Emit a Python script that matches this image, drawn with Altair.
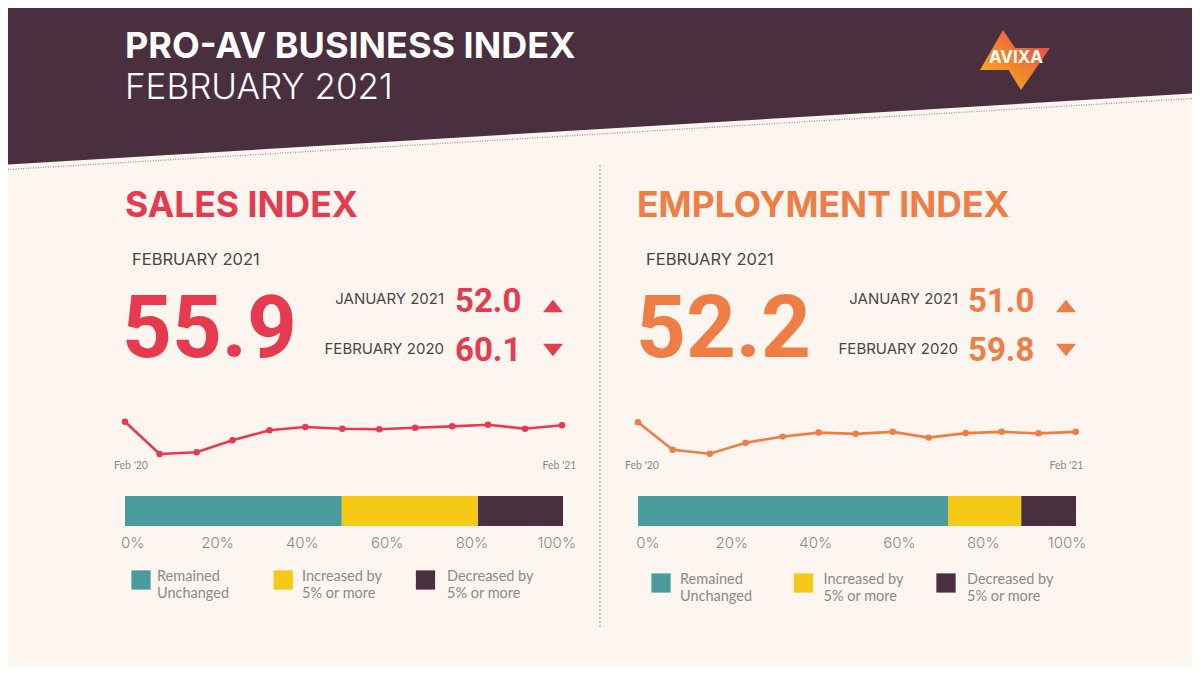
import altair as alt
import pandas as pd

# ---------------- data ----------------
months = ["2020-02-01", "2020-03-01", "2020-04-01", "2020-05-01", "2020-06-01",
          "2020-07-01", "2020-08-01", "2020-09-01", "2020-10-01", "2020-11-01",
          "2020-12-01", "2021-01-01", "2021-02-01"]
sales_index = [60.1, 22.6, 24.6, 38.5, 50.1, 53.9, 52.0, 51.3, 53.1, 54.7, 56.6, 52.0, 55.9]
employment_index = [59.8, 38.0, 34.8, 43.6, 48.4, 51.6, 50.6, 52.2, 47.6, 51.2, 52.2, 51.0, 52.2]
spark_labels = ["Feb '20", "Feb '21"]

categories = ["Remained Unchanged", "Increased by 5% or more", "Decreased by 5% or more"]
legend_lines = ["Remained\nUnchanged", "Increased by\n5% or more", "Decreased by\n5% or more"]
sales_shares = [49.5, 31.1, 19.4]
employment_shares = [70.8, 16.7, 12.5]
tick_values = [0, 20, 40, 60, 80, 100]
tick_labels = ["0%", "20%", "40%", "60%", "80%", "100%"]

sales_headline = {"title": "SALES INDEX", "current": "55.9", "jan": "52.0", "prev": "60.1"}
emp_headline = {"title": "EMPLOYMENT INDEX", "current": "52.2", "jan": "51.0", "prev": "59.8"}

# ---------------- style ----------------
BG = "#FDF6F0"
PLUM = "#4A2F3F"
RED = "#E63A4F"
ORANGE = "#EE7E45"
TEAL = "#4A9A9E"
YELLOW = "#F4CA16"
GRAY_DARK = "#474747"
GRAY = "#8A8A8A"
HEAD = "Inter"
NUM = "Roboto"
BODY = "Lato"
seg_colors = [TEAL, YELLOW, PLUM]

OFF = 8  # page margin: reference pixel -> chart pixel
one = pd.DataFrame({"k": [0]})


def P(v):
    return v - OFF


def txt(t, x, y, size, color, weight="normal", font=HEAD, align="left", baseline="alphabetic"):
    return alt.Chart(one).mark_text(
        text=t, fontSize=size, color=color, fontWeight=weight, font=font,
        align=align, baseline=baseline
    ).encode(x=alt.value(P(x)), y=alt.value(P(y)))


layers = []

# header band (diagonal)
header_df = pd.DataFrame({"px": [0, 1184], "py": [P(165 - 0.06 * 8), P(165 - 0.06 * 1192)]})
layers.append(
    alt.Chart(header_df).mark_area(color=PLUM, opacity=1).encode(
        x=alt.X("px:Q", scale=None, axis=None),
        y=alt.Y("py:Q", scale=None, axis=None),
        y2=alt.value(0),
    )
)
layers.append(
    alt.Chart(one).mark_rule(color="#9C9494", strokeDash=[1, 1.5], strokeWidth=1.3).encode(
        x=alt.value(0), y=alt.value(P(169.5)), x2=alt.value(1184), y2=alt.value(P(98.5))
    )
)
layers.append(txt("PRO-AV BUSINESS INDEX", 125, 58, 36, "white", weight="bold"))
layers.append(txt("FEBRUARY 2021", 125, 99, 35, "white", weight=300))

# logo
logo_path = ("M-0.343,-0.857L-1,0.286L0.429,0.286Z "
             "M-0.571,-0.343L0.171,0.857L1,-0.343Z")
layers.append(
    alt.Chart(one).mark_point(
        shape=logo_path, size=4900, filled=True, opacity=1, strokeWidth=0,
        fill=alt.LinearGradient(
            gradient="linear",
            stops=[alt.GradientStop(color="#F9B81A", offset=0),
                   alt.GradientStop(color="#F07F2E", offset=0.5),
                   alt.GradientStop(color="#E8345C", offset=1)],
            x1=0, y1=1, x2=1, y2=0,
        ),
    ).encode(x=alt.value(P(1015)), y=alt.value(P(60)))
)
layers.append(txt("AVIXA", 1016, 58, 17, "white", weight="bold", align="center", baseline="middle"))

# divider
layers.append(
    alt.Chart(one).mark_rule(color="#A9A3A3", strokeDash=[2, 2], strokeWidth=1.2).encode(
        x=alt.value(P(600)), y=alt.value(P(165)), y2=alt.value(P(628))
    )
)


def panel(head, values, shares, color, L):
    out = []
    out.append(txt(head["title"], L["title_x"], 217, 35.5, color, weight="bold"))
    out.append(txt("FEBRUARY 2021", L["sub_x"], 265, 16.5, GRAY_DARK, weight=400))
    out.append(txt(head["current"], L["big_x"], 357, 87, color, weight="bold", font=NUM))
    out.append(txt("JANUARY 2021", L["lab_r"], 304, 15, GRAY_DARK, weight=400, align="right"))
    out.append(txt(head["jan"], L["num_x"], 312, 33, color, weight="bold", font=NUM))
    out.append(txt("FEBRUARY 2020", L["lab_r"], 354, 15, GRAY_DARK, weight=400, align="right"))
    out.append(txt(head["prev"], L["num_x"], 361, 33, color, weight="bold", font=NUM))
    out.append(
        alt.Chart(one).mark_point(shape="M0,-0.62L1,0.62L-1,0.62Z", size=400, filled=True,
                                  opacity=1, color=color, strokeWidth=0)
        .encode(x=alt.value(P(L["tri_x"])), y=alt.value(P(306)))
    )
    out.append(
        alt.Chart(one).mark_point(shape="M0,0.62L1,-0.62L-1,-0.62Z", size=400, filled=True,
                                  opacity=1, color=color, strokeWidth=0)
        .encode(x=alt.value(P(L["tri_x"])), y=alt.value(P(350)))
    )

    # sparkline
    sdf = pd.DataFrame({"month": months, "value": values})
    xs = alt.Scale(range=[P(L["sp_x0"]), P(L["sp_x1"])], nice=False)
    ys = alt.Scale(domain=[min(values), max(values)], range=[P(L["sp_ylo"]), P(L["sp_yhi"])],
                   zero=False, nice=False)
    out.append(
        alt.Chart(sdf).mark_line(color=color, strokeWidth=2.6).encode(
            x=alt.X("month:T", scale=xs, axis=None),
            y=alt.Y("value:Q", scale=ys, axis=None),
        )
    )
    out.append(
        alt.Chart(sdf).mark_point(color=color, filled=True, opacity=1, size=42).encode(
            x=alt.X("month:T", scale=xs, axis=None),
            y=alt.Y("value:Q", scale=ys, axis=None),
        )
    )
    ldf = pd.DataFrame({"month": [months[0], months[-1]], "label": spark_labels})
    out.append(
        alt.Chart(ldf).mark_text(font=BODY, fontSize=10.5, color=GRAY, baseline="middle").encode(
            x=alt.X("month:T", scale=alt.Scale(range=[P(L["lab0"]), P(L["lab1"])], nice=False), axis=None),
            y=alt.value(P(466)),
            text="label:N",
        )
    )

    # stacked bar
    bdf = pd.DataFrame({"cat": categories, "share": shares, "idx": [0, 1, 2]})
    out.append(
        alt.Chart(bdf)
        .transform_window(end="sum(share)", sort=[alt.SortField("idx")], frame=[None, 0])
        .transform_calculate(start="datum.end - datum.share")
        .mark_rect()
        .encode(
            x=alt.X("start:Q",
                    scale=alt.Scale(domain=[0, 100], range=[P(L["bar_x0"]), P(L["bar_x1"])], nice=False),
                    axis=None),
            x2="end:Q",
            y=alt.value(P(496)), y2=alt.value(P(526)),
            color=alt.Color("cat:N", scale=alt.Scale(domain=categories, range=seg_colors), legend=None),
        )
    )
    tdf = pd.DataFrame({"t": tick_values, "label": tick_labels})
    out.append(
        alt.Chart(tdf).mark_text(font=HEAD, fontWeight=300, fontSize=15, color=GRAY, baseline="middle").encode(
            x=alt.X("t:Q", scale=alt.Scale(domain=[0, 100], range=[P(L["tk0"]), P(L["tk1"])], nice=False),
                    axis=None),
            y=alt.value(P(543)),
            text="label:N",
        )
    )

    # legend
    gdf = pd.DataFrame({"cat": categories, "idx": [0, 1, 2], "label": legend_lines})
    out.append(
        alt.Chart(gdf).mark_square(size=370, opacity=1).encode(
            x=alt.X("idx:Q", scale=alt.Scale(domain=[0, 2], range=[P(L["sq0"]), P(L["sq2"])]), axis=None),
            y=alt.value(P(L["sq_y"])),
            color=alt.Color("cat:N", scale=alt.Scale(domain=categories, range=seg_colors), legend=None),
        )
    )
    out.append(
        alt.Chart(gdf).mark_text(font=BODY, fontSize=14.5, color=GRAY, align="left",
                                 baseline="alphabetic", lineBreak="\n", lineHeight=17).encode(
            x=alt.X("idx:Q", scale=alt.Scale(domain=[0, 2], range=[P(L["gt0"]), P(L["gt2"])]), axis=None),
            y=alt.value(P(L["gt_y"])),
            text="label:N",
        )
    )
    return out


sales_layout = dict(title_x=125, sub_x=132, big_x=122, lab_r=444, num_x=455, tri_x=553,
                    sp_x0=125, sp_x1=562, sp_ylo=454, sp_yhi=421.7, lab0=131, lab1=559.5,
                    bar_x0=125, bar_x1=563, tk0=132.7, tk1=556.7,
                    sq0=141, sq2=425.5, sq_y=580, gt0=157, gt2=447, gt_y=581)
emp_layout = dict(title_x=637, sub_x=646, big_x=636, lab_r=958, num_x=968, tri_x=1066,
                  sp_x0=638, sp_x1=1075.7, sp_ylo=453.7, sp_yhi=422.3, lab0=642, lab1=1066.5,
                  bar_x0=638, bar_x1=1076, tk0=648, tk1=1067,
                  sq0=661, sq2=946, sq_y=583, gt0=680, gt2=967, gt_y=584)

layers += panel(sales_headline, sales_index, sales_shares, RED, sales_layout)
layers += panel(emp_headline, employment_index, employment_shares, ORANGE, emp_layout)

chart = (
    alt.layer(*layers)
    .resolve_scale(x="independent", y="independent")
    .properties(width=1184, height=659, padding=0, background=BG,
                autosize=alt.AutoSizeParams(type="none"))
    .configure_view(stroke=None)
)

chart.save("out.html", embed_options={"renderer": "svg", "actions": False})
